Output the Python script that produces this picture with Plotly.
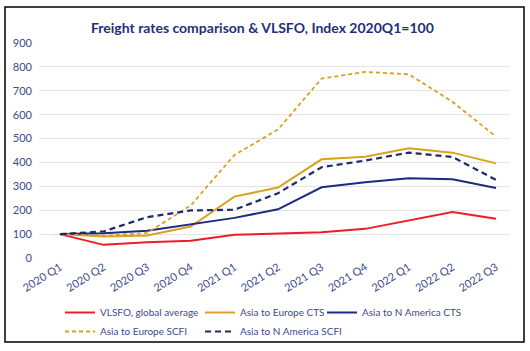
import plotly.graph_objects as go

quarters = ["2020 Q1", "2020 Q2", "2020 Q3", "2020 Q4", "2021 Q1", "2021 Q2",
            "2021 Q3", "2021 Q4", "2022 Q1", "2022 Q2", "2022 Q3"]
vlsfo = [100, 55, 66, 72, 97, 104, 108, 122, 156, 192, 164]
eu_cts = [100, 90, 94, 132, 257, 295, 413, 424, 459, 441, 396]
na_cts = [100, 104, 114, 142, 168, 204, 296, 317, 334, 330, 293]
eu_scfi = [100, 93, 105, 220, 431, 538, 751, 779, 769, 654, 508]
na_scfi = [100, 111, 171, 199, 202, 271, 380, 408, 441, 423, 327]
y_ticks = [0, 100, 200, 300, 400, 500, 600, 700, 800, 900]

FONT = "Lato"
TXT = "#3C4A8A"
PL, PT, PW, PH = 39, 43, 471, 215  # plot area in px

fig = go.Figure()
series = [
    ("VLSFO, global average", vlsfo, "#EE1C25", "solid", 2, "legend"),
    ("Asia to Europe CTS", eu_cts, "#D9A21E", "solid", 2, "legend2"),
    ("Asia to N America CTS", na_cts, "#1C2A80", "solid", 2, "legend3"),
    ("Asia to Europe SCFI", eu_scfi, "#D9A21E", "4px,3px", 1.8, "legend"),
    ("Asia to N America SCFI", na_scfi, "#1C2A6E", "6px,4px", 2.2, "legend2"),
]
for name, vals, col, dash, w, lg in series:
    fig.add_trace(go.Scatter(x=list(range(len(quarters))), y=vals, name=name, mode="lines",
                             line=dict(color=col, width=w, dash=dash), legend=lg))

def leg(xpx, ypx=298):
    return dict(orientation="v", x=(xpx - PL) / PW, xanchor="left",
                y=(PT + PH - ypx) / PH, yanchor="top",
                itemwidth=30, font=dict(size=10, color=TXT), tracegroupgap=0,
                bgcolor="rgba(0,0,0,0)", traceorder="normal")

fig.update_layout(
    width=530, height=351,
    margin=dict(l=PL, r=530 - PL - PW, t=PT, b=351 - PT - PH, autoexpand=False),
    paper_bgcolor="white", plot_bgcolor="white",
    font=dict(family=FONT, color=TXT, size=11),
    title=dict(text="<b>Freight rates comparison & VLSFO, Index 2020Q1=100</b>",
               x=0.495, xanchor="center", y=0.92, yanchor="middle",
               font=dict(family=FONT, size=14, color="#1F2F7A")),
    xaxis=dict(tickmode="array", tickvals=list(range(len(quarters))), ticktext=quarters,
               range=[-0.48, 10.32], showgrid=False, zeroline=False, showline=False,
               tickangle=-32, tickfont=dict(size=11, color=TXT), ticks=""),
    yaxis=dict(range=[0, 900], tickvals=y_ticks, showgrid=True, gridcolor="#E4E4E4",
               gridwidth=1.3, zeroline=False, showline=False,
               tickfont=dict(size=11, color=TXT), ticks="", ticklabelstandoff=6),
    legend=leg(60), legend2=leg(200), legend3=leg(322),
    shapes=[dict(type="rect", xref="paper", yref="paper",
                 x0=(5 - PL) / PW, x1=(524 - PL) / PW,
                 y0=(PT + PH - 342) / PH, y1=(PT + PH - 7) / PH,
                 line=dict(color="black", width=1.5), fillcolor="rgba(0,0,0,0)", layer="above")],
)

fig.write_html("out.html")
